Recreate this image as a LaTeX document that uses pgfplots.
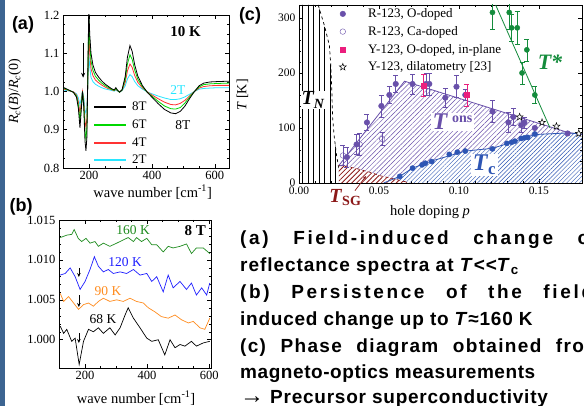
\documentclass[border=0pt]{standalone}
\usepackage{fontspec}
\setmainfont{Liberation Serif}
\newfontfamily\arial{Liberation Sans}
\usepackage{pgfplots}
\pgfplotsset{compat=1.18}
\usetikzlibrary{patterns.meta, arrows.meta}
\definecolor{cgreenA}{RGB}{0,215,0}
\definecolor{credA}{RGB}{255,50,50}
\definecolor{ccyanA}{RGB}{40,230,255}
\definecolor{cgreenB}{RGB}{30,140,30}
\definecolor{cblueB}{RGB}{30,30,255}
\definecolor{corangeB}{RGB}{255,140,30}
\definecolor{cpurple}{RGB}{105,80,170}
\definecolor{cblueC}{RGB}{45,85,180}
\definecolor{cpink}{RGB}{235,30,125}
\definecolor{cgreenC}{RGB}{20,140,60}
\definecolor{cdred}{RGB}{140,25,25}
\definecolor{slate}{RGB}{60,100,145}
\pgfdeclareplotmark{ostar}{%
  \pgfpathmoveto{\pgfqpointpolar{90}{\pgfplotmarksize}}%
  \pgfpathlineto{\pgfqpointpolar{126}{0.42\pgfplotmarksize}}%
  \pgfpathlineto{\pgfqpointpolar{162}{\pgfplotmarksize}}%
  \pgfpathlineto{\pgfqpointpolar{198}{0.42\pgfplotmarksize}}%
  \pgfpathlineto{\pgfqpointpolar{234}{\pgfplotmarksize}}%
  \pgfpathlineto{\pgfqpointpolar{270}{0.42\pgfplotmarksize}}%
  \pgfpathlineto{\pgfqpointpolar{306}{\pgfplotmarksize}}%
  \pgfpathlineto{\pgfqpointpolar{342}{0.42\pgfplotmarksize}}%
  \pgfpathlineto{\pgfqpointpolar{18}{\pgfplotmarksize}}%
  \pgfpathlineto{\pgfqpointpolar{54}{0.42\pgfplotmarksize}}%
  \pgfpathclose\pgfusepathqfillstroke}
\pgfplotsset{
  frameax/.style={scale only axis, anchor=south west,
    axis line style={line width=0.7pt}, tick style={black, line width=0.5pt},
    major tick length=4pt, minor tick length=2pt, tick align=inside,
    /pgf/number format/assume math mode=true,
    scaled x ticks=false, scaled y ticks=false,
    clip mode=individual},
}
\begin{document}
\begin{tikzpicture}
\useasboundingbox (0pt,0pt) rectangle (584pt,406pt);
\fill[white] (0pt,0pt) rectangle (584pt,406pt);
\fill[slate] (0pt,0pt) rectangle (5pt,406pt);

% ---------- panel (a)
\begin{axis}[frameax, at={(63pt,238pt)}, width=166pt, height=153pt,
  xmin=117, xmax=645, ymin=0.8, ymax=1.2,
  xtick={200,400,600}, minor x tick num=3,
  ytick={0.8,0.9,1.0,1.1,1.2}, minor y tick num=3,
  yticklabel style={/pgf/number format/.cd, fixed, fixed zerofill, precision=1},
  ticklabel style={font=\fontsize{12.5}{12.5}\selectfont},
  xlabel={wave number [cm\textsuperscript{-1}]},
  ylabel={\textit{R}\textsubscript{\textit{c}}(\textit{B})/\textit{R}\textsubscript{\textit{c}}(0)},
  every axis x label/.style={at={(axis description cs:0.54,-0.157)}, anchor=center, font=\fontsize{14.5}{14.5}\selectfont},
  every axis y label/.style={at={(axis description cs:-0.29,0.5)}, rotate=90, anchor=center, font=\fontsize{14}{14}\selectfont},
  legend style={draw=none, fill=none, at={(0.18,0.445)}, anchor=north west,
    font=\fontsize{13}{13}\selectfont, row sep=3.6pt, column sep=3pt, inner sep=0pt},
  legend cell align=left, reverse legend,
  legend image code/.code={\draw[#1, line width=2pt] (0pt,0pt) -- (32pt,0pt);},
]
\addplot[ccyanA, line width=0.8pt] coordinates {(120,1.004) (130,1.002) (140,1.001) (150,0.999) (160,0.994) (166,0.983) (171,0.965) (175,0.982) (179,1.000) (183,0.985) (187,0.952) (190,0.943) (193,0.956) (196,1.019) (199,1.100) (202,1.065) (206,1.037) (212,1.026) (220,1.019) (230,1.014) (240,1.010) (250,1.007) (260,1.005) (270,1.003) (280,1.001) (285,1.004) (290,1.001) (297,0.999) (305,1.002) (315,1.015) (322,1.033) (330,1.044) (337,1.039) (345,1.026) (355,1.015) (370,1.006) (385,0.999) (400,0.994) (420,0.988) (440,0.983) (460,0.979) (475,0.979) (490,0.981) (505,0.986) (520,0.993) (535,1.000) (550,1.006) (565,1.008) (585,1.009) (610,1.010) (645,1.010)};
\addlegendentry{2T}
\addplot[credA, line width=0.8pt] coordinates {(120,1.006) (130,1.004) (140,1.001) (150,0.999) (160,0.991) (166,0.973) (171,0.943) (175,0.970) (179,1.000) (183,0.976) (187,0.922) (190,0.907) (193,0.928) (196,1.030) (199,1.160) (202,1.100) (206,1.060) (212,1.042) (220,1.030) (230,1.023) (240,1.017) (250,1.012) (260,1.008) (270,1.005) (280,1.002) (285,1.006) (290,1.002) (297,0.999) (305,1.003) (315,1.024) (322,1.054) (330,1.072) (337,1.063) (345,1.042) (355,1.024) (370,1.009) (385,0.999) (400,0.991) (420,0.981) (440,0.972) (460,0.966) (475,0.965) (490,0.969) (505,0.977) (520,0.989) (535,1.000) (550,1.009) (565,1.013) (585,1.015) (610,1.016) (645,1.016)};
\addlegendentry{4T}
\addplot[cgreenA, line width=0.8pt] coordinates {(120,1.008) (130,1.005) (140,1.002) (150,0.998) (160,0.988) (166,0.964) (171,0.924) (175,0.960) (179,1.000) (183,0.968) (187,0.896) (190,0.876) (193,0.904) (196,1.040) (199,1.190) (202,1.130) (206,1.080) (212,1.056) (220,1.040) (230,1.030) (240,1.022) (250,1.016) (260,1.011) (270,1.006) (280,1.003) (285,1.008) (290,1.003) (297,0.998) (305,1.004) (315,1.032) (322,1.072) (330,1.096) (337,1.084) (345,1.056) (355,1.032) (370,1.012) (385,0.998) (400,0.988) (420,0.974) (440,0.962) (460,0.955) (475,0.954) (490,0.958) (505,0.970) (520,0.986) (535,1.000) (550,1.012) (565,1.018) (585,1.020) (610,1.021) (645,1.022)};
\addlegendentry{6T}
\addplot[black, line width=0.8pt] coordinates {(120,1.010) (130,1.006) (140,1.002) (150,0.998) (160,0.985) (166,0.955) (171,0.905) (175,0.950) (179,1.000) (183,0.960) (187,0.870) (190,0.845) (193,0.880) (196,1.050) (199,1.220) (202,1.150) (206,1.100) (212,1.070) (220,1.050) (230,1.038) (240,1.028) (250,1.020) (260,1.014) (270,1.008) (280,1.004) (285,1.010) (290,1.004) (297,0.998) (305,1.005) (315,1.040) (322,1.090) (330,1.120) (337,1.105) (345,1.070) (355,1.040) (370,1.015) (385,0.998) (400,0.985) (420,0.968) (440,0.953) (460,0.944) (475,0.942) (490,0.948) (505,0.962) (520,0.982) (535,1.000) (550,1.015) (565,1.022) (585,1.025) (610,1.026) (645,1.027)};
\addlegendentry{8T}
\node[font=\fontsize{15}{15}\selectfont\bfseries] at (axis cs:507,1.156) {10 K};
\node[font=\fontsize{13.5}{13.5}\selectfont, text=ccyanA] at (axis cs:482,1.004) {2T};
\node[font=\fontsize{13.5}{13.5}\selectfont] at (axis cs:498,0.913) {8T};
\draw[-{Stealth[length=5pt,width=4pt]}, line width=0.7pt] (axis cs:181,1.127) -- (axis cs:181,1.036);
\end{axis}
\node[font=\arial\bfseries\fontsize{18}{18}\selectfont] at (23pt,381pt) {(a)};

% ---------- panel (b)
\begin{axis}[frameax, at={(59pt,38pt)}, width=152pt, height=148pt,
  xmin=116, xmax=606, ymin=0.99646, ymax=1.015,
  xtick={200,400,600}, minor x tick num=3,
  ytick={1.000,1.005,1.010,1.015}, minor y tick num=4,
  yticklabel style={/pgf/number format/.cd, fixed, fixed zerofill, precision=3},
  ticklabel style={font=\fontsize{12.5}{12.5}\selectfont},
  xlabel={wave number [cm\textsuperscript{-1}]},
  every axis x label/.style={at={(axis description cs:0.507,-0.203)}, anchor=center, font=\fontsize{14.5}{14.5}\selectfont},
]
\addplot[cgreenB, line width=0.7pt] coordinates {(120,1.0128) (141,1.0131) (157,1.0132) (165,1.0138) (178,1.0127) (189,1.0123) (203,1.0127) (216,1.0121) (232,1.0123) (243,1.0117) (259,1.0121) (280,1.0117) (302,1.0121) (323,1.0125) (339,1.0128) (356,1.0123) (366,1.0128) (382,1.0123) (399,1.0127) (415,1.0119) (431,1.0119) (452,1.0110) (468,1.0117) (484,1.0115) (506,1.0117) (527,1.0120) (543,1.0108) (559,1.0115) (581,1.0115) (602,1.0108)};
\addplot[cblueB, line width=0.7pt] coordinates {(120,1.0081) (136,1.0083) (152,1.0090) (168,1.0079) (184,1.0063) (200,1.0073) (216,1.0088) (230,1.0104) (243,1.0092) (259,1.0085) (275,1.0088) (291,1.0083) (313,1.0085) (334,1.0083) (356,1.0088) (377,1.0081) (399,1.0083) (415,1.0073) (431,1.0079) (452,1.0060) (468,1.0081) (484,1.0065) (506,1.0073) (527,1.0063) (543,1.0071) (559,1.0056) (576,1.0065) (592,1.0056) (602,1.0071)};
\addplot[corangeB, line width=0.7pt] coordinates {(120,1.0058) (131,1.0048) (147,1.0054) (163,1.0046) (179,1.0038) (195,1.0044) (211,1.0046) (227,1.0042) (243,1.0048) (259,1.0052) (280,1.0048) (302,1.0050) (323,1.0048) (345,1.0052) (366,1.0048) (388,1.0046) (404,1.0040) (425,1.0035) (446,1.0029) (468,1.0027) (490,1.0031) (511,1.0025) (533,1.0021) (549,1.0023) (570,1.0015) (586,1.0013) (602,1.0027)};
\addplot[black, line width=0.7pt] coordinates {(120,1.0017) (131,1.0008) (141,1.0013) (157,0.9998) (168,1.0002) (181,0.9969) (195,0.9998) (211,1.0013) (227,1.0010) (243,1.0015) (259,1.0008) (280,1.0015) (297,1.0006) (313,1.0015) (329,1.0031) (339,1.0040) (356,1.0027) (377,1.0015) (399,1.0002) (415,0.9998) (436,1.0000) (457,0.9981) (474,1.0000) (490,0.9990) (506,0.9994) (522,0.9992) (543,0.9998) (559,0.9992) (581,0.9996) (602,0.9998)};
\node[font=\fontsize{13.5}{13.5}\selectfont, text=cgreenB] at (axis cs:355,1.01375) {160 K};
\node[font=\fontsize{13.5}{13.5}\selectfont, text=cblueB] at (axis cs:329,1.00974) {120 K};
\node[font=\fontsize{13.5}{13.5}\selectfont, text=corangeB] at (axis cs:274,1.00611) {90 K};
\node[font=\fontsize{13.5}{13.5}\selectfont] at (axis cs:258,1.00260) {68 K};
\node[font=\fontsize{15}{15}\selectfont\bfseries] at (axis cs:555,1.01362) {8 T};
\draw[-{Stealth[length=4pt,width=3.5pt]}, line width=0.7pt] (axis cs:180,1.00899) -- (axis cs:180,1.00786);
\draw[-{Stealth[length=4pt,width=3.5pt]}, line width=0.7pt] (axis cs:180,1.00560) -- (axis cs:180,1.00410);
\draw[-{Stealth[length=4pt,width=3.5pt]}, line width=0.7pt] (axis cs:180,1.00084) -- (axis cs:180,0.99959);
\end{axis}
\node[font=\arial\bfseries\fontsize{18}{18}\selectfont] at (21pt,199pt) {(b)};

% ---------- panel (c)
\begin{axis}[frameax, at={(299pt,223pt)}, width=283pt, height=178pt,
  xmin=0, xmax=0.177, ymin=0, ymax=323.5,
  xtick={0,0.05,0.10,0.15}, minor x tick num=4,
  ytick={0,100,200,300}, minor y tick num=4,
  xticklabel style={/pgf/number format/.cd, fixed, fixed zerofill, precision=2},
  ticklabel style={font=\fontsize{11.5}{11.5}\selectfont},
  xlabel={hole doping \textit{p}},
  ylabel={\textit{T} [K]},
  every axis x label/.style={at={(axis description cs:0.463,-0.163)}, anchor=center, font=\fontsize{14.5}{14.5}\selectfont},
  every axis y label/.style={at={(axis description cs:-0.20,0.494)}, rotate=90, anchor=center, font=\fontsize{14}{14}\selectfont},
  legend style={draw=none, fill=none, at={(0.142,0.992)}, anchor=north west,
    font=\fontsize{13}{13}\selectfont, row sep=3.2pt, column sep=20pt, inner sep=0pt},
  legend cell align=left,
  legend image code/.code={\draw[#1] plot coordinates {(0pt,0pt)};},
]
% T_N region
\addplot[forget plot, draw=none, pattern={Lines[angle=90,distance=5.5pt,line width=0.5pt]}, pattern color=black]
  coordinates {(0,0) (0,323.5) (0.012,323.5) (0.016,285) (0.019,250) (0.020,210) (0.0205,170) (0.021,120) (0.022,85) (0.0235,50) (0.025,25) (0.026,0)} -- cycle;
\addplot[forget plot, black, dashed, line width=0.7pt]
  coordinates {(0.012,323.5) (0.016,285) (0.019,250) (0.020,210) (0.0205,170) (0.021,120) (0.022,85) (0.0235,50) (0.025,25) (0.026,0)};
% T_ons region
\addplot[forget plot, draw=none, pattern={Lines[angle=45,distance=3.4pt,line width=0.45pt]}, pattern color=cpurple]
  coordinates {(0.025,0) (0.025,32) (0.066,185) (0.168,92) (0.1475,88) (0.133,74) (0.121,63) (0.104,58) (0.083,40) (0.071,27) (0.063,12) (0.053,0)} -- cycle;
% T_c region
\addplot[forget plot, draw=none, pattern={Lines[angle=45,distance=3pt,line width=0.45pt]}, pattern color=cblueC]
  coordinates {(0.053,0) (0.063,12) (0.071,27) (0.083,40) (0.104,58) (0.121,63) (0.133,74) (0.1475,88) (0.168,91) (0.177,89) (0.177,0)} -- cycle;
% T_SG region
\addplot[forget plot, draw=none, fill=white, postaction={pattern={Lines[angle=45,distance=3.5pt,line width=0.8pt]}, pattern color=cdred}]
  coordinates {(0.025,0) (0.025,32) (0.035,27) (0.045,19) (0.051,13) (0.060,7) (0.067,2) (0.068,0)} -- cycle;
\addplot[forget plot, cdred, dashed, line width=0.7pt]
  coordinates {(0.025,32) (0.035,27) (0.045,19) (0.051,13) (0.060,7) (0.067,2)};
% lines
\addplot[forget plot, cpurple, line width=0.8pt] coordinates {(0.025,32) (0.066,185) (0.168,92) (0.177,88)};
\addplot[forget plot, cblueC, line width=0.8pt] coordinates {(0.053,0) (0.063,12) (0.071,27) (0.083,40) (0.104,58) (0.121,63) (0.133,74) (0.1475,88) (0.168,91) (0.177,89)};
\addplot[forget plot, cgreenC, line width=0.8pt] coordinates {(0.123,323.5) (0.157,100)};
% Tc points
\addplot[forget plot, only marks, mark=*, mark size=2.6pt, cblueC] coordinates {(0.063,12) (0.071,27) (0.077,33) (0.079,36) (0.083,39) (0.094,52) (0.099,56) (0.104,58) (0.121,62) (0.130,72) (0.133,74) (0.135,76) (0.139,81) (0.141,82) (0.143,83) (0.1475,89)};
% T* points
\addplot[forget plot, only marks, mark=*, mark size=2.6pt, cgreenC,
  error bars/.cd, y dir=both, y explicit, error bar style={cgreenC, line width=0.6pt},
  error mark options={rotate=90, cgreenC, mark size=2.5pt, line width=0.6pt}]
  coordinates {(0.121,310) +- (0,30) (0.1315,310) +- (0,30) (0.133,282) +- (0,25) (0.1365,282) +- (0,30) (0.1425,242) +- (0,20) (0.1395,200) +- (0,20) (0.1475,160) +- (0,15)};
% legend series
\addplot[only marks, mark=*, mark size=2.8pt, cpurple,
  error bars/.cd, y dir=both, y explicit, error bar style={cpurple, line width=0.6pt},
  error mark options={rotate=90, cpurple, mark size=2.5pt, line width=0.6pt}]
  coordinates {(0.030,47) +- (0,18) (0.036,70) +- (0,18) (0.0425,110) +- (0,15) (0.0515,140) +- (0,20) (0.0565,160) +- (0,15) (0.0605,180) +- (0,15) (0.071,180) +- (0,18) (0.0795,180) +- (0,20) (0.0815,180) +- (0,20) (0.0915,155) +- (0,18) (0.0985,175) +- (0,20) (0.104,160) +- (0,10) (0.121,130) +- (0,20) (0.131,110) +- (0,18) (0.134,120) +- (0,15) (0.139,105) +- (0,12) (0.141,110) +- (0,10) (0.1475,100) +- (0,0) (0.168,90) +- (0,0)};
\addlegendentry{R-123, O-doped}
\addplot[only marks, mark=o, mark size=2.8pt, cpurple, mark options={fill=white},
  error bars/.cd, y dir=both, y explicit, error bar style={cpurple, line width=0.6pt},
  error mark options={rotate=90, cpurple, mark size=2.5pt, line width=0.6pt}]
  coordinates {(0.0275,50) +- (0,18) (0.038,70) +- (0,20) (0.052,80) +- (0,12)};
\addlegendentry{R-123, Ca-doped}
\addplot[only marks, mark=square*, mark size=2.6pt, cpink,
  error bars/.cd, y dir=both, y explicit, error bar style={cpink, line width=0.6pt},
  error mark options={rotate=90, cpink, mark size=2.5pt, line width=0.6pt}]
  coordinates {(0.078,177) +- (0,20) (0.105,160) +- (0,20)};
\addlegendentry{Y-123, O-doped, in-plane}
\addplot[only marks, mark=ostar, mark size=3.6pt, draw=black, fill=white, mark options={draw=black, fill=white, line width=0.5pt}]
  coordinates {(0.138,120) (0.152,110) (0.161,103) (0.175,90)};
\addlegendentry{Y-123, dilatometry [23]}
% labels
\node[fill=white, inner sep=1pt, font=\fontsize{20}{20}\selectfont\bfseries\itshape] at (axis cs:0.0088,151) {T\textsubscript{\textit{N}}};
\node[fill=white, inner sep=1.5pt, text=cpurple, font=\fontsize{24}{24}\selectfont\bfseries] at (axis cs:0.096,111) {\textit{T}\,\raisebox{7pt}{\fontsize{14}{14}\selectfont ons}};
\node[fill=white, inner sep=1.5pt, text=cblueC, font=\fontsize{24}{24}\selectfont\bfseries] at (axis cs:0.116,33) {\textit{T}\textsubscript{c}};
\node[text=cgreenC, font=\fontsize{22}{22}\selectfont\bfseries\itshape] at (axis cs:0.157,220) {T*};
\node[text=cdred, font=\fontsize{20}{20}\selectfont\bfseries] at (axis cs:0.029,-27) {\textit{T}\textsubscript{SG}};
\draw[cdred, line width=0.7pt, -{Stealth[length=4pt]}] (axis cs:0.035,-14) -- (axis cs:0.042,13);
\end{axis}
\node[font=\arial\bfseries\fontsize{18}{18}\selectfont] at (250pt,390pt) {(c)};

% ---------- text block
\begin{scope}[every node/.style={anchor=base west, inner sep=0pt, font=\arial\bfseries\fontsize{19}{22}\selectfont}]
\node at (240pt,161pt) {\makebox[358pt][s]{\addfontfeature{LetterSpace=14}(a) Field-induced change of}};
\node at (240pt,134pt) {\addfontfeature{LetterSpace=5}reflectance spectra at \textit{T}<<\textit{T}\textsubscript{c}};
\node at (240pt,107pt) {\makebox[362pt][s]{\addfontfeature{LetterSpace=14}(b) Persistence of the field-}};
\node at (240pt,80pt) {\addfontfeature{LetterSpace=4}induced change up to \textit{T}≈160 K};
\node at (240pt,53pt) {\makebox[362pt][s]{\addfontfeature{LetterSpace=7}(c) Phase diagram obtained from}};
\node at (240pt,27pt) {\addfontfeature{LetterSpace=3}magneto-optics measurements};
\node at (240pt,2pt) {\addfontfeature{LetterSpace=4}{\fontsize{24}{22}\selectfont →} Precursor superconductivity};
\end{scope}
\end{tikzpicture}
\end{document}
